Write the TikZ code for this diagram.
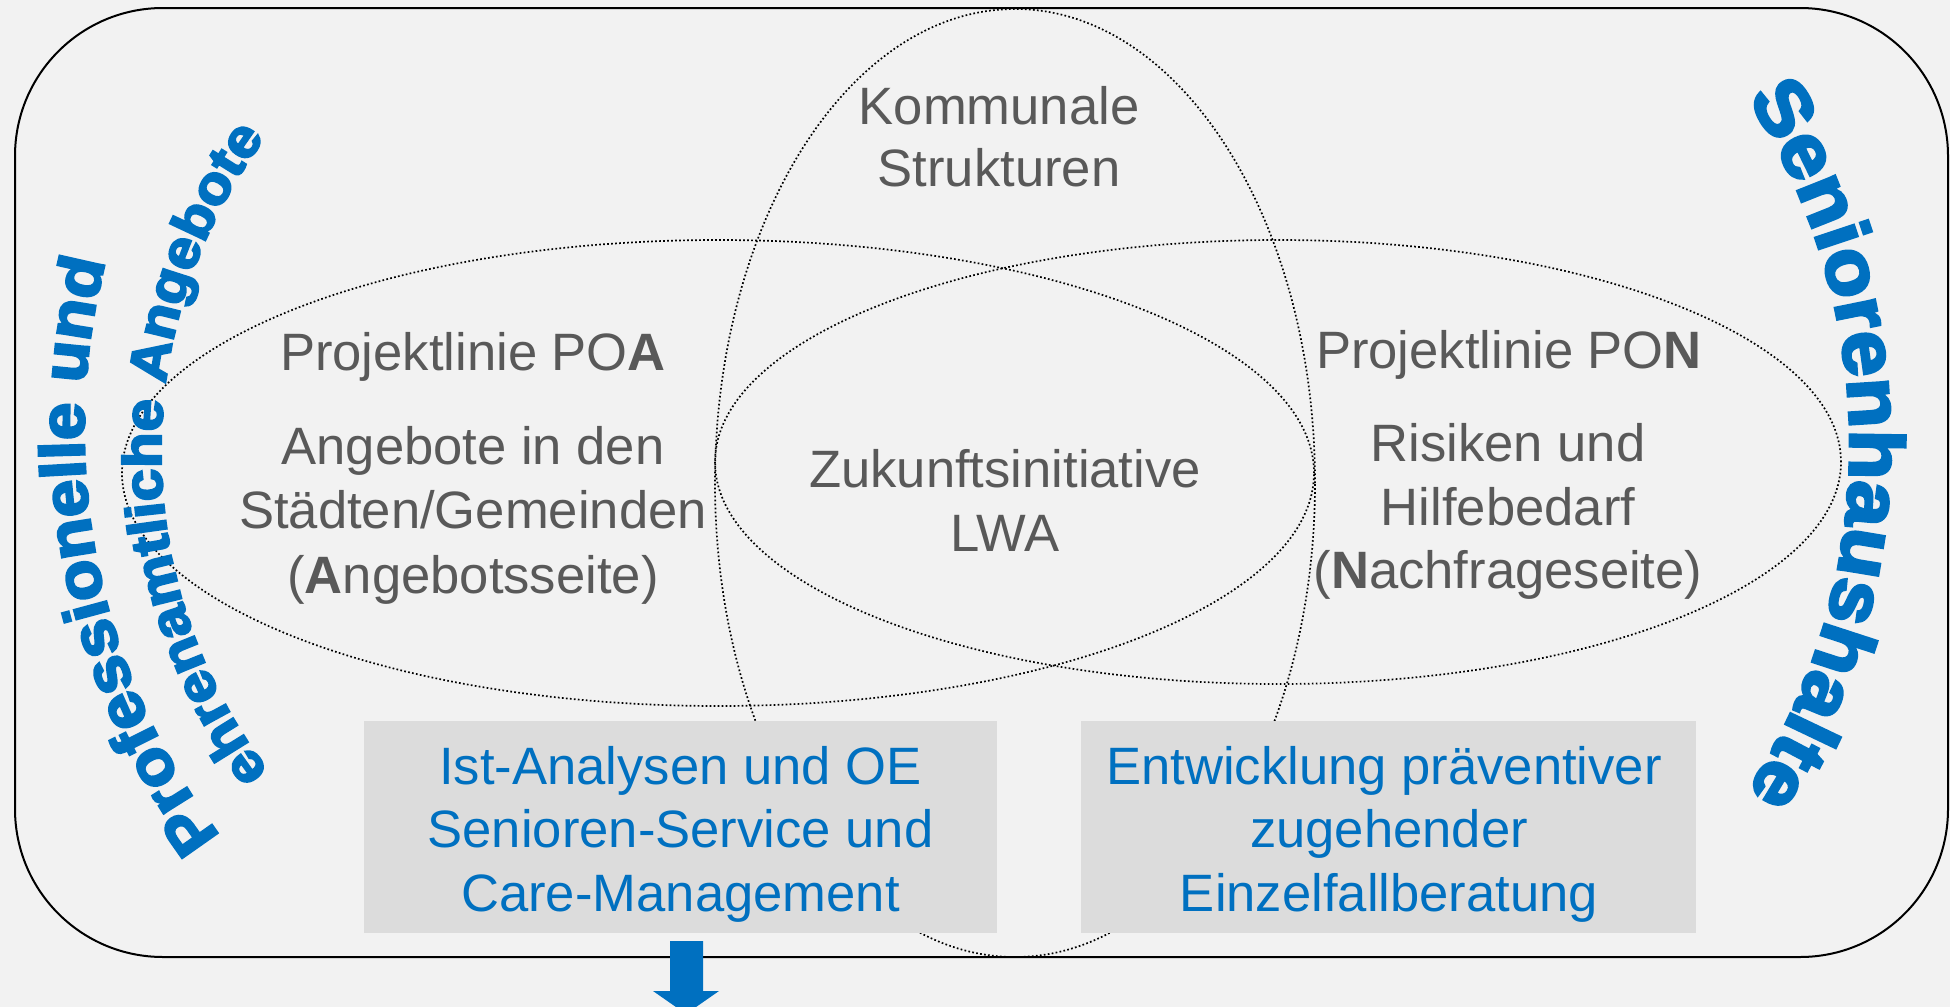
\documentclass[tikz,border=0pt]{standalone}
\usepackage{fontspec}
\setmainfont{Liberation Sans}
\newfontfamily\curvefont[FakeStretch=1.08,FakeBold=4]{Liberation Sans Bold}
\usetikzlibrary{decorations.text,calc}
\definecolor{cbg}{HTML}{F2F2F2}
\definecolor{cbox}{HTML}{DCDCDC}
\definecolor{cblue}{HTML}{0070C0}
\definecolor{cgray}{HTML}{595959}
\begin{document}
\begin{tikzpicture}[x=0.5pt,y=0.5pt,
  lbl/.style={font=\fontsize{26.3}{32}\selectfont, text=cgray, anchor=base, inner sep=0pt},
  blbl/.style={lbl, text=cblue},
  venn/.style={line width=0.85pt, dash pattern=on 0.85pt off 1.15pt, black},
  graybox/.style={fill=cbox, draw=none, inner sep=0pt, minimum height=106pt},
  curved/.style={decorate, color=cblue}
]
\useasboundingbox (0,0) rectangle (1950,-1007);
\clip (0,0) rectangle (1950,-1007);
\fill[cbg] (0,0) rectangle (1950,-1007);
\draw[line width=1pt, rounded corners=74pt] (15,-8) rectangle (1948,-957);
% Venn ellipses
\draw[venn] (1015,-483) ellipse [x radius=300, y radius=474];
\draw[venn] (718,-473) ellipse [x radius=596, y radius=233];
\draw[venn] (1278,-462) ellipse [x radius=563, y radius=222];
% boxes
\node[graybox, minimum width=316.5pt] (boxL) at (680.5,-827) {};
\node[graybox, minimum width=307.5pt] (boxR) at (1388.5,-827) {};
% grey texts
\node[lbl] (kom1) at (999,-124) {Kommunale};
\node[lbl] (kom2) at (999,-186.5) {Strukturen};
\node[lbl] (poa) at (473,-370.5) {Projektlinie PO\textbf{A}};
\node[lbl] (ang1) at (473,-464) {Angebote in den};
\node[lbl] (ang2) at (473,-528.5) {Städten/Gemeinden};
\node[lbl] (ang3) at (473,-593) {(\textbf{A}ngebotsseite)};
\node[lbl] (zuk1) at (1005,-487.5) {Zukunftsinitiative};
\node[lbl] (zuk2) at (1005,-551) {LWA};
\node[lbl] (pon) at (1509,-368) {Projektlinie PO\textbf{N}};
\node[lbl] (ris1) at (1508,-461) {Risiken und};
\node[lbl] (ris2) at (1508,-525) {Hilfebedarf};
\node[lbl] (ris3) at (1508,-588) {(\textbf{N}achfrageseite)};
% blue box texts
\node[blbl] (bl1) at (680.5,-784) {Ist-Analysen und OE};
\node[blbl] (bl2) at (680.5,-847) {Senioren-Service und};
\node[blbl] (bl3) at (680.5,-911) {Care-Management};
\node[blbl] (br1) at (1384,-784) {Entwicklung präventiver};
\node[blbl] (br2) at (1389,-847) {zugehender};
\node[blbl] (br3) at (1389,-911) {Einzelfallberatung};
% arrow
\fill[cblue] (670,-941) -- (703,-941) -- (703,-991) -- (719,-991) -- (686,-1014)
  -- (653,-991) -- (670,-991) -- cycle;
% curved texts
\coordinate (cR) at (1214,-445);
\coordinate (cL) at (758,-430);
\coordinate (cI) at (688,-452);
\path[curved, decoration={text along path,
   text={|\curvefont\fontsize{38}{40}\selectfont\color{cblue}|Seniorenhaushalte},
   text align=center}]
   ($(cR)+(45:636)$) arc[start angle=45, end angle=-45, radius=636];
\path[curved, decoration={text along path,
   text={|\curvefont\fontsize{31.4}{33}\selectfont\color{cblue}|Professionelle und},
   text align=center}]
   ($(cL)+(241.3:674)$) arc[start angle=241.3, end angle=141.3, radius=674];
\path[curved, decoration={text along path,
   text={|\curvefont\fontsize{27}{29}\selectfont\color{cblue}|ehrenamtliche Angebote},
   text align=center}]
   ($(cI)+(230.35:527)$) arc[start angle=230.35, end angle=130.35, radius=527];
\end{tikzpicture}
\end{document}
